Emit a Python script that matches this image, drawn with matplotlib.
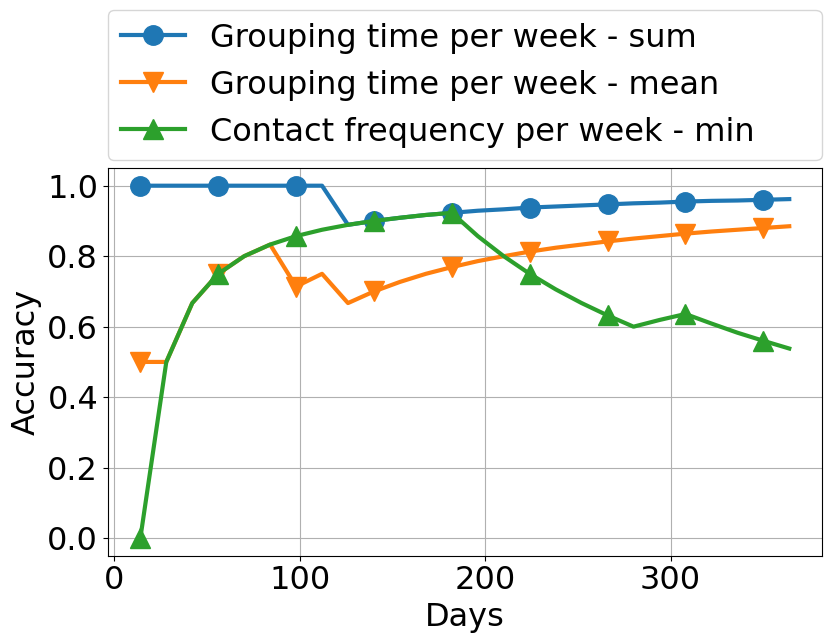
import matplotlib
matplotlib.use("Agg")
import matplotlib.pyplot as plt
from matplotlib.ticker import MultipleLocator

days = [14, 28, 42, 56, 70, 84, 98, 112, 126, 140, 154, 168, 182,
        196, 210, 224, 238, 252, 266, 280, 294, 308, 322, 336, 350, 364]

grouping_sum = [1.0, 1.0, 1.0, 1.0, 1.0, 1.0, 1.0, 1.0, 0.889, 0.9, 0.909, 0.917, 0.923,
                0.929, 0.933, 0.938, 0.941, 0.944, 0.947, 0.95, 0.952, 0.955, 0.957, 0.958, 0.96, 0.962]

grouping_mean = [0.5, 0.5, 0.667, 0.75, 0.8, 0.833, 0.714, 0.75, 0.667, 0.7, 0.727, 0.75, 0.769,
                 0.786, 0.8, 0.813, 0.824, 0.833, 0.842, 0.85, 0.857, 0.864, 0.87, 0.875, 0.88, 0.885]

contact_min = [0.0, 0.5, 0.667, 0.75, 0.8, 0.833, 0.857, 0.875, 0.889, 0.9, 0.909, 0.917, 0.923,
               0.857, 0.8, 0.75, 0.706, 0.667, 0.632, 0.6, 0.619, 0.636, 0.609, 0.583, 0.56, 0.538]

plt.rcParams["font.size"] = 23

fig = plt.figure(figsize=(8.3, 6.44), dpi=100)
ax = fig.add_axes([0.130, 0.137, 0.860, 0.602])

ax.plot(days, grouping_sum, marker="o", markevery=3, markersize=14, linewidth=3,
        label="Grouping time per week - sum")
ax.plot(days, grouping_mean, marker="v", markevery=3, markersize=14, linewidth=3,
        label="Grouping time per week - mean")
ax.plot(days, contact_min, marker="^", markevery=3, markersize=14, linewidth=3,
        label="Contact frequency per week - min")

ax.xaxis.set_major_locator(MultipleLocator(100))
ax.set_xlabel("Days")
ax.set_ylabel("Accuracy")
ax.grid(True)
ax.legend(bbox_to_anchor=(0, 1.02, 1, 0.2), loc="lower left", mode="expand",
          borderaxespad=0)

fig.savefig("out.png")
